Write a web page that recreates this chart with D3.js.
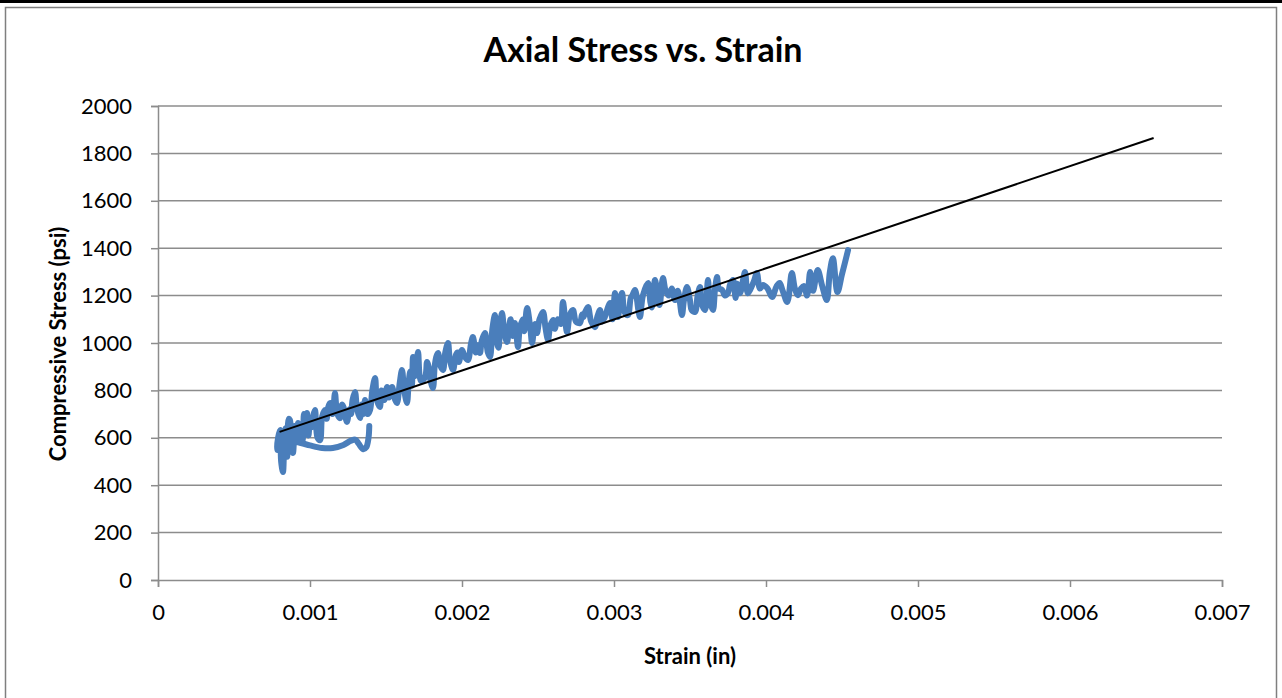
<!DOCTYPE html>
<html><head><meta charset="utf-8">
<script src="https://cdn.jsdelivr.net/npm/d3@7"></script>
<style>
html,body{margin:0;padding:0;background:#fff;}
svg{display:block;}
text{font-family:Lato,"Open Sans",sans-serif;fill:#000;}
</style></head>
<body>
<svg id="c" width="1282" height="698"></svg>
<script>
const title = "Axial Stress vs. Strain";
const xTitle = "Strain (in)";
const yTitle = "Compressive Stress (psi)";
const xTicks = [0, 0.001, 0.002, 0.003, 0.004, 0.005, 0.006, 0.007];
const xTickLabels = ["0", "0.001", "0.002", "0.003", "0.004", "0.005", "0.006", "0.007"];
const yTicks = [0, 200, 400, 600, 800, 1000, 1200, 1400, 1600, 1800, 2000];

// measured curve: strain values
const strain = [
  0.00139, 0.001385, 0.00137, 0.00135, 0.00132, 0.0013, 0.00127, 0.00122, 0.00115, 0.00108, 0.001, 0.00094, 0.00088, 0.00083,
  0.00080, 0.000783, 0.00079, 0.000803, 0.00081, 0.000822, 0.00083, 0.00084, 0.00085, 0.00086, 0.000868, 0.00088, 0.000888, 0.0009,
  0.00091, 0.000921, 0.00093, 0.000947, 0.00096, 0.00097, 0.00098, 0.00099, 0.001, 0.001013, 0.00102, 0.001033, 0.00104, 0.00105,
  0.001066, 0.00108, 0.001099, 0.00111, 0.00112, 0.001132, 0.00115, 0.001164, 0.00118, 0.001197, 0.00121, 0.00122, 0.001243, 0.00126,
  0.00127, 0.00128, 0.001296, 0.00131, 0.001329, 0.00134, 0.00135, 0.001362, 0.00138, 0.001395, 0.00141, 0.001428, 0.00144, 0.00146,
  0.00147, 0.00148, 0.00149, 0.001507, 0.00152, 0.00154, 0.00156, 0.001572, 0.00159, 0.001605, 0.00162, 0.001638, 0.00165, 0.00166,
  0.00167, 0.001678, 0.00169, 0.0017, 0.001711, 0.00173, 0.001757, 0.00177, 0.00178, 0.00179, 0.001809, 0.00182, 0.00183, 0.001842,
  0.00186, 0.001875, 0.00189, 0.001908, 0.00192, 0.001941, 0.00196, 0.00197, 0.00198, 0.002, 0.00202, 0.002039, 0.00206, 0.002072,
  0.00209, 0.0021, 0.002118, 0.00213, 0.002151, 0.00217, 0.002184, 0.0022, 0.002217, 0.00223, 0.00224, 0.00225, 0.002263, 0.00228,
  0.002296, 0.00231, 0.00232, 0.002335, 0.002349, 0.002368, 0.00238, 0.0024, 0.00241, 0.002428, 0.00245, 0.002461, 0.00248, 0.002493,
  0.00251, 0.002533, 0.00255, 0.002566, 0.00258, 0.002599, 0.00261, 0.00263, 0.00265, 0.002664, 0.002691, 0.00271, 0.00273, 0.00275,
  0.002776, 0.00279, 0.0028, 0.00281, 0.002829, 0.00285, 0.002875, 0.00289, 0.002908, 0.00292, 0.00294, 0.00296, 0.002974, 0.00299,
  0.003007, 0.003026, 0.00304, 0.003053, 0.00307, 0.003092, 0.00311, 0.00312, 0.003138, 0.00316, 0.003171, 0.00319, 0.003224, 0.00324,
  0.00325, 0.00327, 0.00329, 0.0033, 0.003322, 0.00334, 0.00336, 0.00338, 0.003401, 0.00342, 0.003447, 0.00346, 0.00348, 0.0035,
  0.00351, 0.003533, 0.00355, 0.003566, 0.00358, 0.003599, 0.003618, 0.00363, 0.003651, 0.003665, 0.003678, 0.00369, 0.003711, 0.00373,
  0.00375, 0.003765, 0.003783, 0.0038, 0.00381, 0.003829, 0.00385, 0.003862, 0.00388, 0.003895, 0.00392, 0.00394, 0.00396, 0.00398,
  0.00401, 0.00404, 0.00407, 0.00409, 0.00411, 0.00414, 0.00417, 0.00419, 0.00421, 0.00423, 0.00425, 0.00427, 0.00429, 0.0043,
  0.00431, 0.00434, 0.00437, 0.0044, 0.00442, 0.00444, 0.00447, 0.0045, 0.00454
];
// measured curve: stress values (psi)
const stress = [
  650, 600, 560, 552, 575, 592, 588, 570, 557, 557, 568, 578, 585, 575,
  580, 549, 600, 633, 500, 456, 560, 640, 520, 680, 675, 560, 536, 650,
  600, 662, 590, 578, 700, 640, 705, 610, 650, 645, 690, 717, 650, 600,
  590, 690, 717, 680, 730, 747, 700, 789, 700, 683, 740, 730, 667, 720,
  700, 760, 793, 720, 683, 740, 700, 759, 700, 717, 800, 852, 760, 730,
  800, 790, 760, 814, 770, 814, 760, 747, 830, 886, 800, 747, 840, 880,
  820, 941, 860, 900, 962, 840, 856, 920, 900, 850, 810, 900, 940, 958,
  900, 886, 960, 1000, 930, 886, 950, 960, 920, 970, 940, 928, 1000, 1025,
  960, 990, 958, 1010, 1042, 960, 941, 1060, 1118, 1000, 980, 1060, 1127, 1040,
  1004, 1070, 1100, 1030, 1084, 983, 1060, 1100, 1050, 1148, 1060, 1000, 1080, 1042,
  1100, 1131, 1060, 1013, 1070, 1097, 1060, 1100, 1080, 1173, 1046, 1120, 1139, 1090,
  1084, 1120, 1110, 1130, 1152, 1090, 1067, 1110, 1139, 1090, 1110, 1150, 1169, 1100,
  1211, 1110, 1180, 1211, 1130, 1118, 1190, 1200, 1224, 1140, 1110, 1200, 1253, 1170,
  1150, 1266, 1180, 1160, 1274, 1220, 1200, 1230, 1181, 1220, 1118, 1180, 1236, 1180,
  1140, 1131, 1200, 1236, 1160, 1139, 1266, 1180, 1139, 1230, 1278, 1230, 1224, 1200,
  1211, 1250, 1266, 1190, 1250, 1210, 1270, 1300, 1210, 1224, 1260, 1295, 1230, 1245,
  1230, 1194, 1240, 1253, 1220, 1173, 1295, 1230, 1202, 1230, 1240, 1200, 1300, 1240,
  1220, 1308, 1240, 1181, 1300, 1358, 1215, 1290, 1392
];
// linear trendline endpoints
const trendStrain = [0.0008, 0.00655];
const trendStress = [625, 1865];

const svg = d3.select("#c");
const W = 1282, H = 698;

// chart area frame
svg.append("rect").attr("x", 0).attr("y", 0).attr("width", W).attr("height", 3).attr("fill", "#000");
svg.append("rect").attr("x", 5.5).attr("y", 7.5).attr("width", 1271).attr("height", 700)
  .attr("fill", "none").attr("stroke", "#7f7f7f").attr("stroke-width", 1.5);

const x = d3.scaleLinear().domain([0, 0.007]).range([158, 1222]);
const y = d3.scaleLinear().domain([0, 2000]).range([580, 106]);

// gridlines
svg.append("g").selectAll("line").data(yTicks.filter(d => d > 0)).join("line")
  .attr("x1", x(0)).attr("x2", x(0.007))
  .attr("y1", d => y(d)).attr("y2", d => y(d))
  .attr("stroke", "#8c8c8c").attr("stroke-width", 1.5);

// axes
const gx = svg.append("g").attr("transform", `translate(0,${y(0)})`)
  .call(d3.axisBottom(x).tickValues(xTicks).tickFormat((d, i) => xTickLabels[i]).tickSize(7).tickPadding(17));
const gy = svg.append("g").attr("transform", `translate(${x(0)},0)`)
  .call(d3.axisLeft(y).tickValues(yTicks).tickFormat(d3.format("d")).tickSize(7).tickPadding(19));
[gx, gy].forEach(g => {
  g.select(".domain").attr("stroke", "#8c8c8c").attr("stroke-width", 1.5);
  g.selectAll(".tick line").attr("stroke", "#8c8c8c").attr("stroke-width", 1.5);
  g.selectAll(".tick text").attr("font-size", 22).attr("font-family", "Lato, 'Open Sans', sans-serif").attr("fill", "#000");
});

// data line
const pts = strain.map((s, i) => [s, stress[i]]);
const line = d3.line().x(d => x(d[0])).y(d => y(d[1])).curve(d3.curveCatmullRom.alpha(0.5));
svg.append("path").attr("d", line(pts)).attr("fill", "none")
  .attr("stroke", "#4a7ebb").attr("stroke-width", 6)
  .attr("stroke-linejoin", "round").attr("stroke-linecap", "round");

// trendline
svg.append("line")
  .attr("x1", x(trendStrain[0])).attr("y1", y(trendStress[0]))
  .attr("x2", x(trendStrain[1])).attr("y2", y(trendStress[1]))
  .attr("stroke", "#000").attr("stroke-width", 2);

// titles
svg.append("text").attr("x", 643).attr("y", 62).attr("text-anchor", "middle")
  .attr("font-size", 34).attr("font-weight", "bold").text(title);
svg.append("text").attr("x", 690).attr("y", 664).attr("text-anchor", "middle")
  .attr("font-size", 22).attr("font-weight", "bold").text(xTitle);
svg.append("text").attr("transform", "translate(66,344) rotate(-90)").attr("text-anchor", "middle")
  .attr("font-size", 22).attr("font-weight", "bold").text(yTitle);
</script>
</body></html>
